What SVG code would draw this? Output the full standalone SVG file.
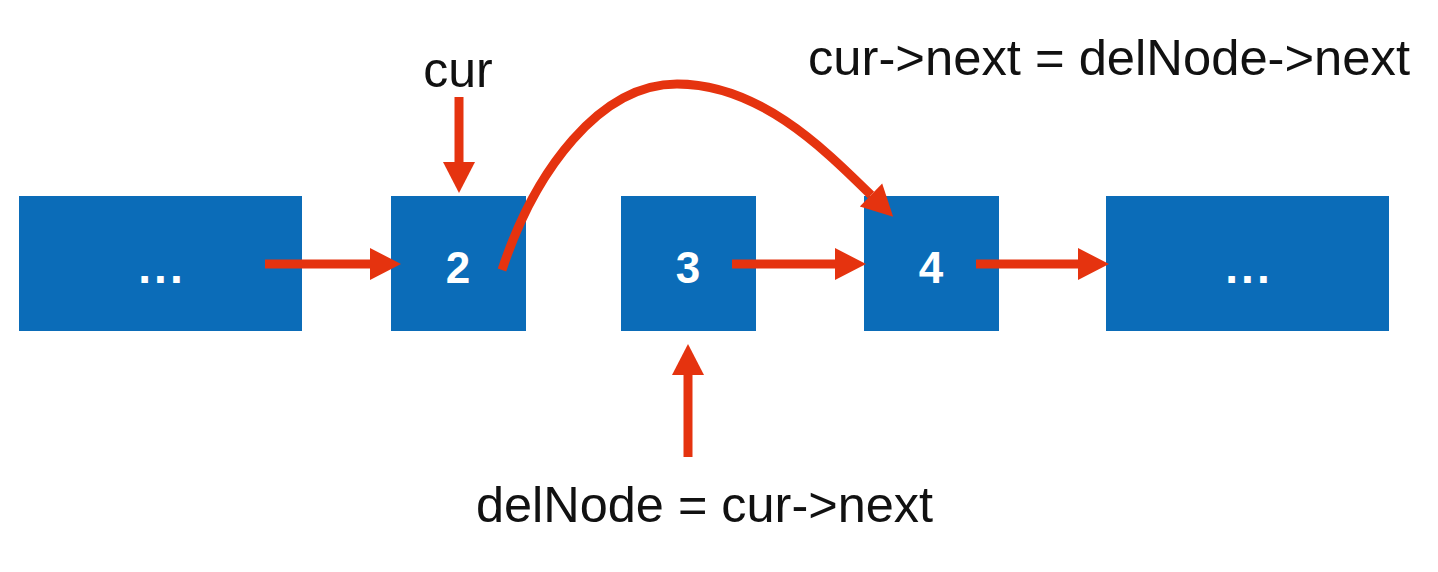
<svg xmlns="http://www.w3.org/2000/svg" width="1438" height="572" viewBox="0 0 1438 572">
  <style>
    .box { fill: #0b6cb8; }
    .val { fill: #ffffff; font-family: "Liberation Sans", Arial, sans-serif; font-weight: bold; font-size: 44px; text-anchor: middle; }
    .dots { letter-spacing: 3px; font-size: 46px; }
    .lbl { fill: #111111; font-family: "Liberation Sans", Arial, sans-serif; font-size: 50px; }
    .arr { stroke: #e5330f; stroke-width: 9; fill: none; }
  </style>
  <defs>
    <marker id="head" markerUnits="userSpaceOnUse" markerWidth="32" markerHeight="34" refX="0" refY="16" orient="auto" overflow="visible">
      <path d="M0,0 L31,16 L0,32 Z" fill="#e5330f"/>
    </marker>
  </defs>
  <rect width="1438" height="572" fill="#ffffff"/>

  <g id="node-left">
    <rect class="box" x="19" y="196" width="283" height="135"/>
    <text class="val dots" x="162" y="283">...</text>
  </g>
  <g id="node-2">
    <rect class="box" x="391" y="196" width="135" height="135"/>
    <text class="val" x="458" y="283">2</text>
  </g>
  <g id="node-3">
    <rect class="box" x="621" y="196" width="135" height="135"/>
    <text class="val" x="688" y="283">3</text>
  </g>
  <g id="node-4">
    <rect class="box" x="864" y="196" width="135" height="135"/>
    <text class="val" x="931" y="283">4</text>
  </g>
  <g id="node-right">
    <rect class="box" x="1106" y="196" width="283" height="135"/>
    <text class="val dots" x="1249" y="283">...</text>
  </g>

  <g id="label-cur">
    <text class="lbl" x="458" y="87" text-anchor="middle">cur</text>
  </g>
  <g id="label-delnode">
    <text class="lbl" x="476" y="522" textLength="457" lengthAdjust="spacingAndGlyphs">delNode = cur-&gt;next</text>
  </g>
  <g id="label-curnext">
    <text class="lbl" x="808" y="75" textLength="602" lengthAdjust="spacingAndGlyphs">cur-&gt;next = delNode-&gt;next</text>
  </g>

  <g id="connectors">
    <line class="arr" x1="265" y1="264" x2="370" y2="264" marker-end="url(#head)"/>
    <line class="arr" x1="732" y1="264" x2="835" y2="264" marker-end="url(#head)"/>
    <line class="arr" x1="976" y1="264" x2="1078" y2="264" marker-end="url(#head)"/>
    <line class="arr" x1="459" y1="97" x2="459" y2="162" marker-end="url(#head)"/>
    <line class="arr" x1="688" y1="457" x2="688" y2="375" marker-end="url(#head)"/>
    <path class="arr" d="M502,270 C535,170 600,84 677,84 C760,84 825,150 871,195" marker-end="url(#head)"/>
  </g>
</svg>
